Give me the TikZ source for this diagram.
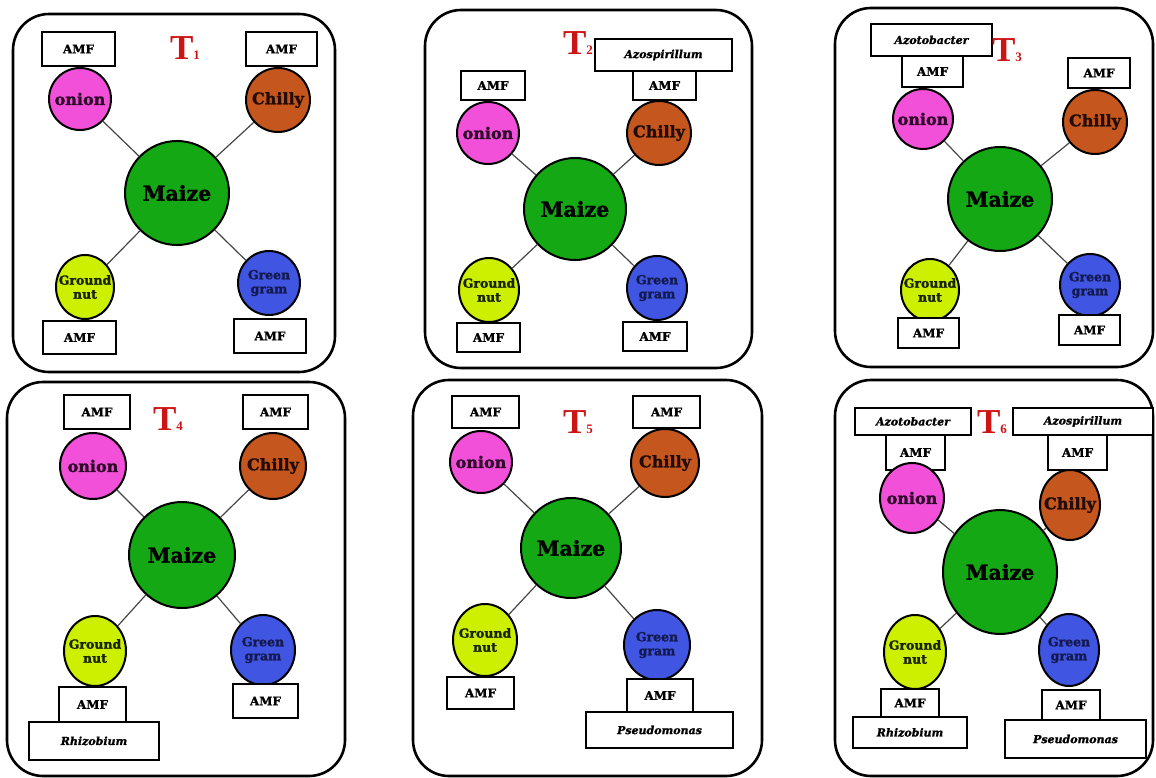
\documentclass[tikz,border=0pt]{standalone}
\usepackage{fontspec}
\usetikzlibrary{shapes.geometric}
\newfontfamily\labfont{DejaVu Serif}[BoldFeatures={FakeBold=1.6}, BoldItalicFeatures={FakeBold=1.2}]
\newfontfamily\tfont{Liberation Serif}
\definecolor{onioncol}{RGB}{243,80,218}
\definecolor{chillycol}{RGB}{196,86,30}
\definecolor{maizecol}{RGB}{20,168,20}
\definecolor{gnutcol}{RGB}{205,240,0}
\definecolor{gramcol}{RGB}{64,86,226}
\definecolor{tred}{RGB}{204,20,20}
\definecolor{linkcol}{RGB}{70,70,70}
\tikzset{
  panel/.style={draw, line width=2.6pt, rounded corners=36pt},
  crop/.style={ellipse, draw, line width=2pt, inner sep=-20pt, align=center, text=black},
  onionn/.style={crop, fill=onioncol, text={rgb,255:red,45;green,10;blue,40}, font=\labfont\bfseries\fontsize{16}{16}\selectfont},
  chillyn/.style={crop, fill=chillycol, text={rgb,255:red,35;green,12;blue,5}, font=\labfont\bfseries\fontsize{16}{16}\selectfont},
  maizen/.style={crop, fill=maizecol, font=\labfont\bfseries\fontsize{20.5}{20.5}\selectfont},
  gnutn/.style={crop, fill=gnutcol, text={rgb,255:red,25;green,35;blue,5}, font=\labfont\bfseries\fontsize{12.5}{14}\selectfont},
  gramn/.style={crop, fill=gramcol, text={rgb,255:red,20;green,25;blue,80}, font=\labfont\bfseries\fontsize{12.5}{14}\selectfont},
  amfbox/.style={draw, line width=1.1pt, fill=white, inner sep=0pt, font=\labfont\bfseries\fontsize{12}{12}\selectfont},
  microbe/.style={draw, line width=1.1pt, fill=white, inner sep=0pt, font=\labfont\bfseries\itshape\fontsize{11}{11}\selectfont},
  link/.style={draw=linkcol, line width=1.2pt},
  tlab/.style={text=tred, inner sep=0pt, font=\tfont\bfseries}
}
\newcommand{\tl}[1]{{\fontsize{35}{35}\selectfont T}{\fontsize{13}{13}\selectfont #1}}
\begin{document}
\begin{tikzpicture}[x=1pt, y=-1pt]
\useasboundingbox (0,0) rectangle (1156,778);

% ---------------- Panel 1 ----------------
\draw[panel] (13,14) rectangle (335,372);
\node[tlab] (t1) at (185,48) {\tl{1}};
\node[amfbox, minimum width=73pt, minimum height=34pt] (p1a1) at (78.5,49) {AMF};
\node[amfbox, minimum width=71pt, minimum height=34pt] (p1a2) at (281.5,49) {AMF};
\node[onionn, minimum width=62pt, minimum height=62pt] (p1on) at (80,99) {onion};
\node[chillyn, minimum width=64pt, minimum height=64pt] (p1ch) at (278,100) {Chilly};
\node[maizen, minimum width=104pt, minimum height=104pt] (p1mz) at (177,193) {Maize};
\node[gnutn, minimum width=58pt, minimum height=64pt] (p1gn) at (85,287) {Ground\\nut};
\node[gramn, minimum width=62pt, minimum height=64pt] (p1gg) at (269,283) {Green\\gram};
\node[amfbox, minimum width=73pt, minimum height=33pt] (p1a3) at (79.5,337.5) {AMF};
\node[amfbox, minimum width=72pt, minimum height=34pt] (p1a4) at (270,336) {AMF};
\draw[link] (p1mz) -- (p1on);
\draw[link] (p1mz) -- (p1ch);
\draw[link] (p1mz) -- (p1gn);
\draw[link] (p1mz) -- (p1gg);

% ---------------- Panel 2 ----------------
\draw[panel] (425,10) rectangle (752,368);
\node[tlab] (t2) at (578,43) {\tl{2}};
\node[microbe, minimum width=137pt, minimum height=32pt] (p2az) at (663.5,55) {Azospirillum};
\node[amfbox, minimum width=63pt, minimum height=29pt] (p2a2) at (664.5,85.5) {AMF};
\node[amfbox, minimum width=64pt, minimum height=29pt] (p2a1) at (493,85.5) {AMF};
\node[onionn, minimum width=62pt, minimum height=62pt] (p2on) at (488,133) {onion};
\node[chillyn, minimum width=64pt, minimum height=64pt] (p2ch) at (659,133) {Chilly};
\node[maizen, minimum width=102pt, minimum height=102pt] (p2mz) at (575,209) {Maize};
\node[gnutn, minimum width=60pt, minimum height=64pt] (p2gn) at (489,290) {Ground\\nut};
\node[gramn, minimum width=60pt, minimum height=64pt] (p2gg) at (657,288) {Green\\gram};
\node[amfbox, minimum width=63pt, minimum height=29pt] (p2a3) at (488.5,337.5) {AMF};
\node[amfbox, minimum width=64pt, minimum height=29pt] (p2a4) at (655,336.5) {AMF};
\draw[link] (p2mz) -- (p2on);
\draw[link] (p2mz) -- (p2ch);
\draw[link] (p2mz) -- (p2gn);
\draw[link] (p2mz) -- (p2gg);

% ---------------- Panel 3 ----------------
\draw[panel] (835,8) rectangle (1153,367);
\node[microbe, minimum width=121pt, minimum height=32pt] (p3az) at (931.5,40) {Azotobacter};
\node[tlab] (t3) at (1007,50) {\tl{3}};
\node[amfbox, minimum width=61pt, minimum height=31pt] (p3a1) at (932.5,71.5) {AMF};
\node[amfbox, minimum width=62pt, minimum height=30pt] (p3a2) at (1099,73) {AMF};
\node[onionn, minimum width=60pt, minimum height=60pt] (p3on) at (923,119) {onion};
\node[chillyn, minimum width=64pt, minimum height=64pt] (p3ch) at (1095,122) {Chilly};
\node[maizen, minimum width=104pt, minimum height=104pt] (p3mz) at (1000,199) {Maize};
\node[gnutn, minimum width=58pt, minimum height=62pt] (p3gn) at (930,290) {Ground\\nut};
\node[gramn, minimum width=60pt, minimum height=62pt] (p3gg) at (1090,285) {Green\\gram};
\node[amfbox, minimum width=61pt, minimum height=30pt] (p3a3) at (928.5,333) {AMF};
\node[amfbox, minimum width=61pt, minimum height=30pt] (p3a4) at (1089.5,330) {AMF};
\draw[link] (p3mz) -- (p3on);
\draw[link] (p3mz) -- (p3ch);
\draw[link] (p3mz) -- (p3gn);
\draw[link] (p3mz) -- (p3gg);

% ---------------- Panel 4 ----------------
\draw[panel] (7,382) rectangle (345,776);
\node[amfbox, minimum width=66pt, minimum height=34pt] (p4a1) at (97,412) {AMF};
\node[tlab] (t4) at (168,419) {\tl{4}};
\node[amfbox, minimum width=65pt, minimum height=34pt] (p4a2) at (275.5,412) {AMF};
\node[onionn, minimum width=66pt, minimum height=66pt] (p4on) at (93,466) {onion};
\node[chillyn, minimum width=66pt, minimum height=66pt] (p4ch) at (273,466) {Chilly};
\node[maizen, minimum width=106pt, minimum height=106pt] (p4mz) at (182,555) {Maize};
\node[gnutn, minimum width=62pt, minimum height=70pt] (p4gn) at (95,651) {Ground\\nut};
\node[gramn, minimum width=64pt, minimum height=70pt] (p4gg) at (263,650) {Green\\gram};
\node[amfbox, minimum width=67pt, minimum height=35pt] (p4a3) at (92.5,704.5) {AMF};
\node[microbe, minimum width=130pt, minimum height=38pt] (p4rh) at (94,741) {Rhizobium};
\node[amfbox, minimum width=65pt, minimum height=34pt] (p4a4) at (265.5,701) {AMF};
\draw[link] (p4mz) -- (p4on);
\draw[link] (p4mz) -- (p4ch);
\draw[link] (p4mz) -- (p4gn);
\draw[link] (p4mz) -- (p4gg);

% ---------------- Panel 5 ----------------
\draw[panel] (413,380) rectangle (762,776);
\node[amfbox, minimum width=67pt, minimum height=32pt] (p5a1) at (485.5,412) {AMF};
\node[tlab] (t5) at (578,422) {\tl{5}};
\node[amfbox, minimum width=67pt, minimum height=32pt] (p5a2) at (666.5,412) {AMF};
\node[onionn, minimum width=62pt, minimum height=62pt] (p5on) at (481,462) {onion};
\node[chillyn, minimum width=68pt, minimum height=68pt] (p5ch) at (665,463) {Chilly};
\node[maizen, minimum width=100pt, minimum height=100pt] (p5mz) at (571,548) {Maize};
\node[gnutn, minimum width=64pt, minimum height=72pt] (p5gn) at (485,640) {Ground\\nut};
\node[gramn, minimum width=66pt, minimum height=70pt] (p5gg) at (657,645) {Green\\gram};
\node[amfbox, minimum width=67pt, minimum height=32pt] (p5a3) at (480.5,693) {AMF};
\node[amfbox, minimum width=66pt, minimum height=33pt] (p5a4) at (660,695.5) {AMF};
\node[microbe, minimum width=147pt, minimum height=36pt] (p5ps) at (659.5,730) {Pseudomonas};
\draw[link] (p5mz) -- (p5on);
\draw[link] (p5mz) -- (p5ch);
\draw[link] (p5mz) -- (p5gn);
\draw[link] (p5mz) -- (p5gg);

% ---------------- Panel 6 ----------------
\draw[panel] (835,380) rectangle (1153,776);
\node[microbe, minimum width=116pt, minimum height=27pt] (p6az) at (913,421.5) {Azotobacter};
\node[tlab] (t6) at (992,422) {\tl{6}};
\node[microbe, minimum width=140pt, minimum height=27pt] (p6as) at (1083,421.5) {Azospirillum};
\node[amfbox, minimum width=59pt, minimum height=35pt] (p6a1) at (915.5,452.5) {AMF};
\node[amfbox, minimum width=59pt, minimum height=35pt] (p6a2) at (1077.5,452.5) {AMF};
\node[onionn, minimum width=64pt, minimum height=70pt] (p6on) at (912,498) {onion};
\node[chillyn, minimum width=60pt, minimum height=70pt] (p6ch) at (1070,505) {Chilly};
\node[maizen, minimum width=114pt, minimum height=124pt] (p6mz) at (1000,572) {Maize};
\node[gnutn, minimum width=62pt, minimum height=74pt] (p6gn) at (915,652) {Ground\\nut};
\node[gramn, minimum width=60pt, minimum height=72pt] (p6gg) at (1069,650) {Green\\gram};
\node[amfbox, minimum width=58pt, minimum height=28pt] (p6a3) at (910,703) {AMF};
\node[microbe, minimum width=114pt, minimum height=31pt] (p6rh) at (910,732.5) {Rhizobium};
\node[amfbox, minimum width=58pt, minimum height=30pt] (p6a4) at (1071,705) {AMF};
\node[microbe, minimum width=141pt, minimum height=38pt] (p6ps) at (1075.5,739) {Pseudomonas};
\draw[link] (p6mz) -- (p6on);
\draw[link] (p6mz) -- (p6ch);
\draw[link] (p6mz) -- (p6gn);
\draw[link] (p6mz) -- (p6gg);
\end{tikzpicture}
\end{document}
